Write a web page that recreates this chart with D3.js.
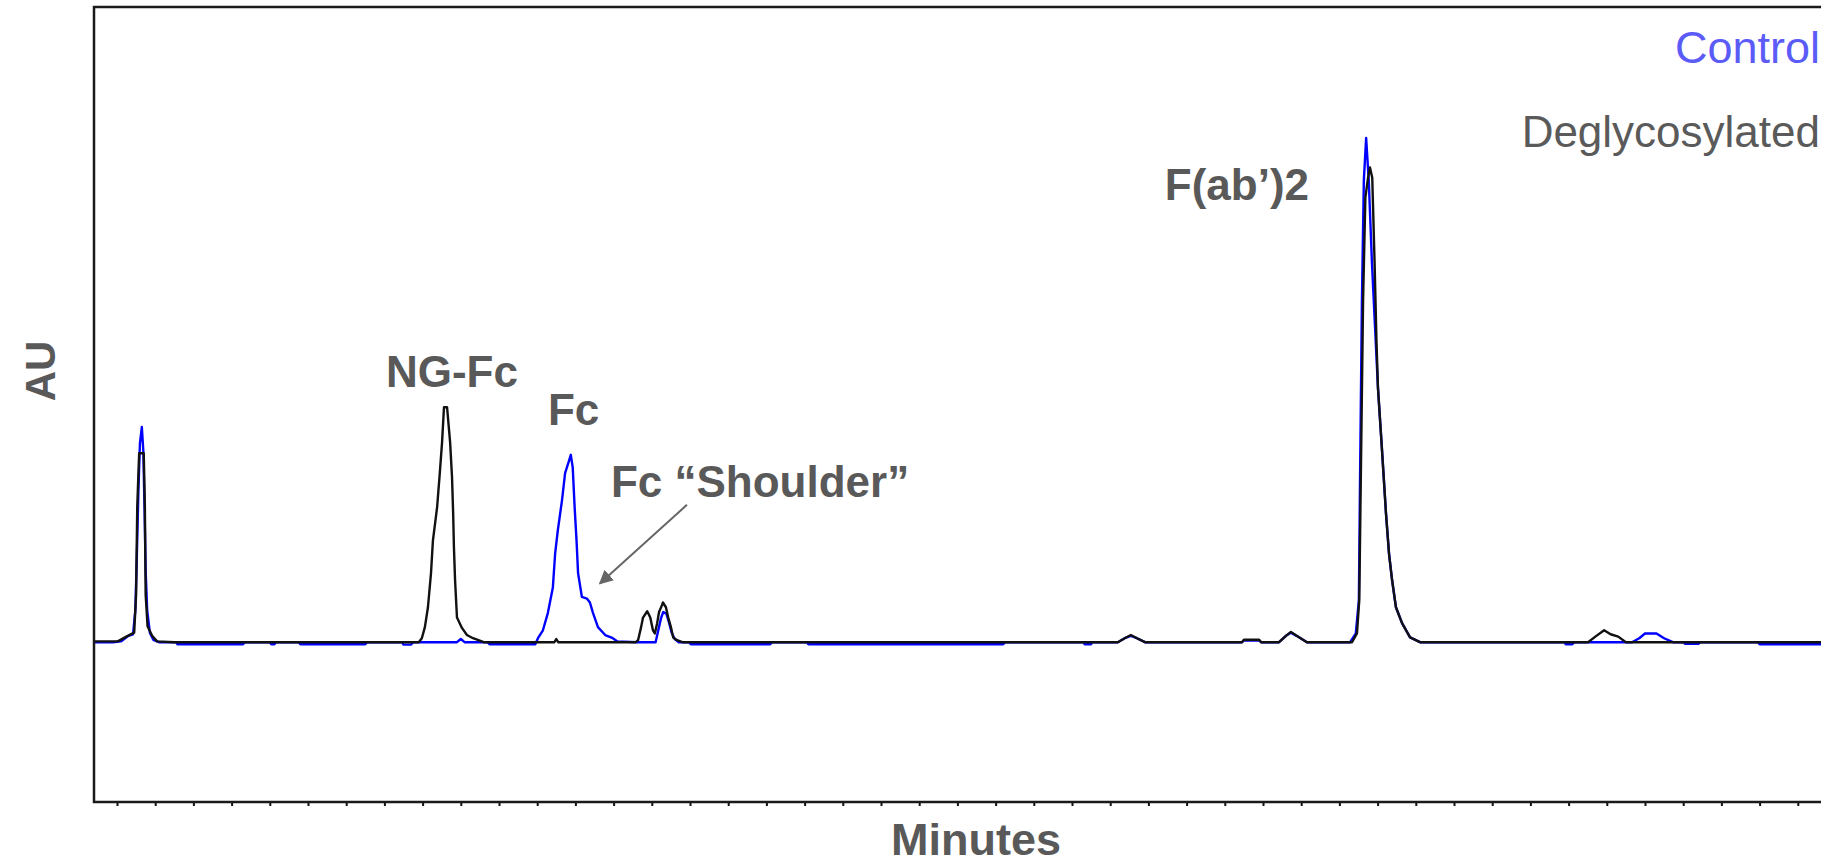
<!DOCTYPE html>
<html>
  <head>
    <meta http-equiv="Content-Type" content="text/html;charset=utf-8">
    <title>Chromatogram</title>
    <script src="https://d3js.org/d3.v7.min.js"></script>
    <style>
      html, body {
        margin: 0;
        padding: 0;
        background: #fff;
      }
      svg { display: block; }
      text { font-family: "Liberation Sans", Arial, sans-serif; }
      .trace { fill: none; stroke-width: 2.4px; stroke-linejoin: round; }
    </style>
  </head>
  <body>
    <script type="text/javascript">

// [minutes, mAU]
var controlTrace = [
  [0.40, 0], [0.90, 0], [1.10, 1], [1.30, 8], [1.42, 10], [1.48, 40], [1.52, 110], [1.56, 190],
  [1.60, 250], [1.65, 271], [1.69, 240], [1.72, 170], [1.75, 90], [1.79, 40], [1.86, 12], [1.95, 3], [2.10, 0],
  [2.55, 0], [2.58, -2.5], [4.30, -2.5], [4.35, 0], [5.00, 0], [5.04, -2.5], [5.12, -2.5], [5.16, 0],
  [5.76, 0], [5.80, -2.5], [7.50, -2.5], [7.55, 0], [8.46, 0], [8.50, -3], [8.70, -3], [8.75, 0],
  [9.90, 0], [10.00, 4], [10.10, 0], [10.70, 0], [10.75, -2.5], [11.95, -2.5],
  [12.02, 5], [12.15, 15], [12.28, 37], [12.41, 69], [12.47, 112], [12.54, 141], [12.65, 179], [12.73, 213],
  [12.83, 228], [12.88, 236], [12.93, 220], [12.98, 170], [13.03, 128], [13.07, 87], [13.17, 57], [13.30, 55],
  [13.38, 50], [13.46, 37], [13.59, 19], [13.78, 9], [13.98, 5], [14.10, 1], [14.60, 0],
  [15.10, 0], [15.17, 15], [15.24, 30], [15.30, 38], [15.38, 36], [15.45, 25], [15.52, 12], [15.60, 4], [15.70, 0],
  [15.98, 0], [16.02, -2.5], [18.10, -2.5], [18.15, 0], [19.06, 0], [19.10, -2.5], [24.20, -2.5], [24.25, 0],
  [26.30, 0], [26.33, -2.5], [26.50, -2.5], [26.53, 0],
  [27.20, 0], [27.38, 5], [27.54, 8], [27.70, 5], [27.91, 0],
  [30.45, 0], [30.50, 2], [30.90, 2], [30.95, 0],
  [31.42, 0], [31.60, 8], [31.73, 12], [31.88, 8], [32.15, 0],
  [33.28, 0], [33.43, 11], [33.51, 53], [33.54, 204], [33.59, 431], [33.64, 582], [33.70, 635], [33.77, 580],
  [33.85, 480], [33.93, 400], [34.01, 320], [34.11, 246], [34.22, 162], [34.30, 111], [34.38, 78], [34.48, 44],
  [34.64, 24], [34.85, 6], [35.11, 0],
  [38.90, 0], [38.92, -2.5], [39.10, -2.5], [39.15, 0],
  [40.66, 0], [40.85, 5], [41.00, 11], [41.30, 11], [41.50, 5], [41.73, 0],
  [42.00, 0], [42.05, -2], [42.40, -2], [42.45, 0],
  [43.96, 0], [44.00, -2.5], [45.70, -2.5]
];

var deglycoTrace = [
  [0.40, 1], [1.02, 1], [1.28, 8], [1.45, 12], [1.50, 60], [1.53, 170], [1.58, 238], [1.70, 238],
  [1.73, 170], [1.75, 60], [1.80, 20], [1.92, 8], [2.05, 1], [2.50, 0],
  [8.90, 0], [8.98, 5], [9.06, 19], [9.14, 44], [9.22, 87], [9.27, 128], [9.38, 170], [9.45, 213], [9.51, 252],
  [9.56, 296], [9.64, 296], [9.72, 252], [9.77, 208], [9.80, 162], [9.82, 120], [9.85, 78], [9.90, 31],
  [10.03, 18], [10.16, 9], [10.32, 5], [10.60, 0],
  [12.45, 0], [12.50, 4], [12.55, 0],
  [14.58, 0], [14.64, 2.5], [14.72, 19], [14.77, 31], [14.88, 39], [14.96, 31], [15.03, 15], [15.08, 11], [15.14, 24],
  [15.19, 38], [15.27, 47], [15.29, 50], [15.37, 44], [15.43, 31], [15.50, 19], [15.56, 6], [15.66, 2.5], [15.80, 0],
  [27.20, 0], [27.38, 5], [27.54, 9], [27.70, 5], [27.91, 0],
  [30.45, 0], [30.50, 3], [30.90, 3], [30.95, 0],
  [31.42, 0], [31.60, 8], [31.73, 13], [31.88, 8], [32.15, 0],
  [33.33, 0], [33.46, 11], [33.52, 53], [33.56, 204], [33.62, 431], [33.68, 560], [33.75, 585], [33.80, 598],
  [33.86, 585], [33.92, 480], [33.97, 380], [34.01, 320], [34.11, 246], [34.22, 162], [34.30, 111], [34.38, 78],
  [34.48, 44], [34.64, 24], [34.85, 6], [35.11, 0],
  [39.51, 0], [39.70, 7], [39.93, 15], [40.10, 10], [40.30, 7], [40.50, 0],
  [45.70, 0]
];

// peak labels: text, [minutes, mAU] of the text start/baseline
var peakLabels = [
  { text: "NG-Fc", at: [8.04, 322] },
  { text: "Fc", at: [12.28, 273] },
  { text: "Fc \u201cShoulder\u201d", at: [13.93, 183] },
  { text: "F(ab\u2019)2", at: [28.43, 557] }
];

var shoulderArrow = { from: [15.92, 173], to: [13.64, 74] };

var seriesNames = ["Control", "Deglycosylated"];
var seriesColors = ["#0000ff", "#111111"];
var legendColors = ["#5b5bf8", "#5a5a5a"];

var width = 1821, height = 866;
var plot = { left: 94, top: 7, bottom: 802 };

var svg = d3.select("body").append("svg")
  .attr("width", width)
  .attr("height", height);

var x = d3.scaleLinear().domain([0, 50]).range([78.8, 78.8 + 50 * 38.2]);
var y = d3.scaleLinear().domain([-200, 800]).range([plot.bottom - 1, plot.top]);

svg.append("defs").append("clipPath").attr("id", "clip")
  .append("rect")
  .attr("x", plot.left).attr("y", plot.top)
  .attr("width", width - plot.left).attr("height", plot.bottom - plot.top);

// tick marks along bottom
var xAxis = d3.axisBottom(x)
  .tickValues(d3.range(1, 47))
  .tickFormat("")
  .tickSize(4)
  .tickSizeOuter(0);

var gx = svg.append("g")
  .attr("transform", "translate(0," + plot.bottom + ")")
  .call(xAxis);
gx.select(".domain").remove();
gx.selectAll("line").attr("stroke", "#111").attr("stroke-width", 2);

var lineFunction = d3.line()
  .x(function(d) { return x(d[0]); })
  .y(function(d) { return y(d[1]); });

var traces = svg.append("g").attr("clip-path", "url(#clip)");

traces.append("path")
  .attr("class", "trace")
  .attr("stroke", seriesColors[0])
  .attr("d", lineFunction(controlTrace));

traces.append("path")
  .attr("class", "trace")
  .attr("stroke", seriesColors[1])
  .attr("d", lineFunction(deglycoTrace));

// frame
svg.append("path")
  .attr("d", "M" + (width + 10) + "," + plot.top + "H" + plot.left + "V" + plot.bottom + "H" + (width + 10))
  .attr("fill", "none")
  .attr("stroke", "#1a1a1a")
  .attr("stroke-width", 2.5);

// annotations
svg.selectAll(".peak")
  .data(peakLabels)
  .enter().append("text")
  .attr("class", "peak")
  .attr("x", function(d) { return x(d.at[0]); })
  .attr("y", function(d) { return y(d.at[1]); })
  .attr("fill", "#595959")
  .attr("font-weight", "bold")
  .attr("font-size", 44)
  .text(function(d) { return d.text; });

svg.append("defs").append("marker")
  .attr("id", "arrowhead")
  .attr("viewBox", "0 0 10 10")
  .attr("refX", 9).attr("refY", 5)
  .attr("markerWidth", 7).attr("markerHeight", 7)
  .attr("markerUnits", "strokeWidth")
  .attr("orient", "auto")
  .append("path")
  .attr("d", "M0,0 L10,5 L0,10 z")
  .attr("fill", "#666");

svg.append("line")
  .attr("x1", x(shoulderArrow.from[0])).attr("y1", y(shoulderArrow.from[1]))
  .attr("x2", x(shoulderArrow.to[0])).attr("y2", y(shoulderArrow.to[1]))
  .attr("stroke", "#666")
  .attr("stroke-width", 2)
  .attr("marker-end", "url(#arrowhead)");

// legend text
svg.selectAll(".legend")
  .data(seriesNames)
  .enter().append("text")
  .attr("class", "legend")
  .attr("x", 1820)
  .attr("y", function(d, i) { return i === 0 ? 63 : 147; })
  .attr("text-anchor", "end")
  .attr("font-size", function(d, i) { return i === 0 ? 45 : 44; })
  .attr("fill", function(d, i) { return legendColors[i]; })
  .text(function(d) { return d; });

// axis titles
svg.append("text")
  .attr("x", 976).attr("y", 855)
  .attr("text-anchor", "middle")
  .attr("font-weight", "bold")
  .attr("font-size", 45)
  .attr("fill", "#595959")
  .text("Minutes");

svg.append("text")
  .attr("transform", "translate(55,371) rotate(-90)")
  .attr("text-anchor", "middle")
  .attr("font-weight", "bold")
  .attr("font-size", 42)
  .attr("fill", "#595959")
  .text("AU");

    </script>
  </body>
</html>
